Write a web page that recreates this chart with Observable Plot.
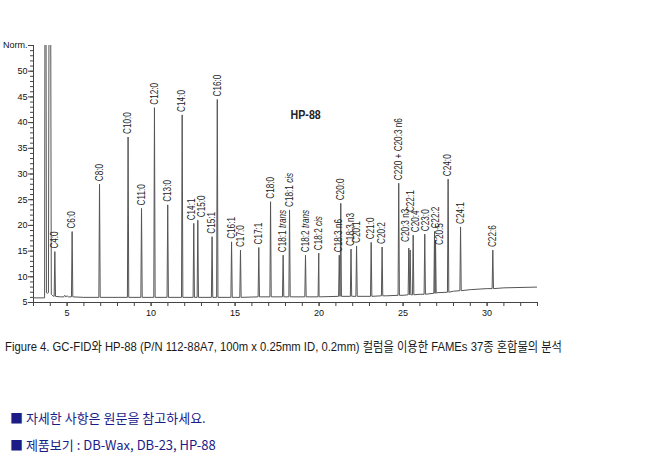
<!DOCTYPE html>
<html><head><meta charset="utf-8">
<script src="https://cdn.jsdelivr.net/npm/d3@7"></script>
<script src="https://cdn.jsdelivr.net/npm/@observablehq/plot@0.6"></script>
<style>
body{margin:0;background:#fff;width:650px;height:469px;position:relative;overflow:hidden}
#chart{position:absolute;left:0;top:0}
#caption{position:absolute;left:5px;top:338px;font-size:13px;line-height:17px;font-family:"Liberation Sans","Noto Sans CJK KR",sans-serif;color:#1a1a1a;white-space:nowrap;transform-origin:0 50%}
.note{position:absolute;left:10px;font-size:13px;line-height:18px;font-family:"Noto Sans CJK KR",sans-serif;color:#1c1c88;white-space:nowrap}
</style></head><body>
<div id="chart"></div>
<div id="caption"></div>
<div class="note" id="note1" style="top:409px"></div>
<div class="note" id="note2" style="top:436px"></div>
<script>
// ---- data ----
const peakNames = ["C4:0","C6:0","C8:0","C10:0","C11:0","C12:0","C13:0","C14:0","C14:1","C15:0","C15:1","C16:0","C16:1","C17:0","C17:1","C18:0","C18:1 trans","C18:1 cis","C18:2 trans","C18:2 cis","C18:3 n6","C20:0","C18:3 n3","C20:1","C21:0","C20:2","C220 + C20:3 n6","C20:3 n3","C22:1","C20:4","C23:0","C22:2","C20:5","C24:0","C24:1","C22:6"];
const peakTimes = [4.27,5.30,6.93,8.63,9.43,10.20,10.99,11.85,12.54,12.78,13.63,13.94,14.79,15.32,16.41,17.11,17.86,18.24,19.19,19.98,21.20,21.29,21.90,22.23,23.10,23.75,24.74,25.34,25.42,25.60,26.29,26.87,26.93,27.68,28.42,30.34];
const peakHeights = [14.9,18.8,28.0,37.2,23.3,42.9,24.0,41.5,20.4,21.0,17.8,44.5,16.8,15.2,15.7,24.6,14.2,23.0,14.2,14.6,14.2,24.3,15.4,16.0,16.7,15.8,28.2,15.6,15.2,18.1,18.3,18.8,17.1,29.0,19.7,15.2];
const peakBases = [6.2,6.1,6.0,6.0,6.0,6.0,6.0,6.0,6.0,6.0,6.0,6.0,6.0,6.0,6.1,6.1,6.1,6.1,6.1,6.1,6.2,6.2,6.2,6.2,6.2,6.3,6.4,6.5,6.5,6.5,6.6,6.8,6.8,7.0,7.3,7.7];
// label placement where the reference moves a label off its peak: [time, level]
const labelMoves = {"C14:1":[12.44,null],"C15:0":[13.04,null],"C20:3 n3":[25.14,16.2],"C22:1":[25.43,22.0],"C20:4":[25.73,null],"C23:0":[26.33,null],"C22:2":[26.95,null],"C20:5":[27.18,15.6]};
// baseline and solvent front
const baseTimes  = [3.0,3.66,3.71,3.77,3.84,3.89,3.97,4.06,4.15,4.22,4.6,4.8,4.86,4.92,5.0,5.08,6,10,15,20,22,24,25,26,27,28,29,30,31,33];
const baseValues = [5.9,5.9,140,6.9,6.8,6.9,140,6.6,6.3,6.2,6.1,6.1,6.4,6.1,6.3,6.1,6.0,6.0,6.0,6.1,6.2,6.3,6.4,6.6,6.9,7.2,7.5,7.7,7.85,8.0];
const xMajorTicks = [5,10,15,20,25,30];
const yMajorTicks = [5,10,15,20,25,30,35,40,45,50,55];
const yTopLabel = "Norm.";
const columnName = "HP-88";
const columnNamePos = [19.2, 41.4];
const captionText = "Figure 4. GC-FID와 HP-88 (P/N 112-88A7, 100m x 0.25mm ID, 0.2mm) 컬럼을 이용한 FAMEs 37종 혼합물의 분석";
const notes = ["■ 자세한 사항은 원문을 참고하세요.", "■ 제품보기 : DB-Wax, DB-23, HP-88"];

// ---- build tables ----
const trace = baseTimes.map((t, i) => ({t, v: baseValues[i]}));
peakTimes.forEach((t, i) => {
  trace.push({t: t - 0.04, v: peakBases[i]}, {t, v: peakHeights[i]}, {t: t + 0.04, v: peakBases[i]});
});
trace.sort((a, b) => a.t - b.t);
const labels = peakNames.map((name, i) => {
  const mv = labelMoves[name] || [null, null];
  return {name, t: mv[0] ?? peakTimes[i], v: mv[1] ?? peakHeights[i]};
});

const sans = '"Liberation Sans",Arial,sans-serif';
const chart = Plot.plot({
  width: 650, height: 325,
  marginLeft: 33, marginRight: 113, marginTop: 45, marginBottom: 23,
  x: {domain: [3, 33], label: null},
  y: {domain: [5, 55], label: null},
  style: {fontFamily: sans, fontSize: "9px", color: "#111", background: "white"},
  marks: [
    Plot.axisX({ticks: d3.range(3, 34, 1), tickFormat: () => "", tickSize: 4, stroke: "#444", label: null}),
    Plot.axisX({ticks: xMajorTicks, tickSize: 4, tickPadding: 3, stroke: "#444", label: null}),
    Plot.axisY({ticks: d3.range(5, 56, 1), tickFormat: () => "", tickSize: 3, stroke: "#444", label: null}),
    Plot.axisY({ticks: yMajorTicks, tickFormat: d => d === 55 ? yTopLabel : d, tickSize: 5, tickPadding: 1, stroke: "#444", label: null}),
    Plot.ruleX([3], {stroke: "#444"}),
    Plot.ruleY([5], {stroke: "#444"}),
    Plot.line(trace, {x: "t", y: "v", stroke: "#555", strokeWidth: 1, clip: true}),
    Plot.text(labels, {x: "t", y: "v", text: "name", rotate: -90, textAnchor: "start", lineAnchor: "middle", dy: -3, fontSize: 10, fill: "#222"}),
    Plot.text([columnName], {x: () => columnNamePos[0], y: () => columnNamePos[1], text: d => d, fontWeight: "bold", fontSize: 12.5, fill: "#222"})
  ]
});
document.getElementById("chart").appendChild(chart);
// narrow lettering, italic "trans"/"cis"
d3.select(chart).selectAll("text").each(function () {
  const tr = this.getAttribute("transform");
  if (tr && tr.includes("rotate")) this.setAttribute("transform", tr + " scale(0.82,1)");
  const s = this.textContent;
  const m = s.match(/^(C\d+:\d+) (trans|cis)$/);
  if (m) {
    this.textContent = "";
    d3.select(this).append("tspan").text(m[1] + " ");
    d3.select(this).append("tspan").attr("font-style", "italic").text(m[2]);
  }
  if (s === columnName && tr) this.setAttribute("transform", tr + " scale(0.85,1)");
});
const cap = document.getElementById("caption");
cap.textContent = captionText;
const w = cap.getBoundingClientRect().width;
const target = 557;
if (w > 0) cap.style.transform = `scaleX(${target / w})`;
document.getElementById("note1").textContent = notes[0];
document.getElementById("note2").textContent = notes[1];
</script>
</body></html>
